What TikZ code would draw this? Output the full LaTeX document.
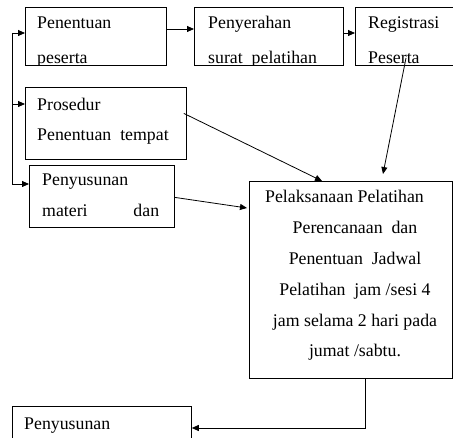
\documentclass[tikz,border=0pt]{standalone}
\usepackage{fontspec}
\setmainfont{Liberation Serif}
\usetikzlibrary{arrows.meta,positioning,calc}

\begin{document}
\begin{tikzpicture}[
    x=1pt, y=-1pt,
    box/.style={draw, line width=0.8pt, anchor=north west, inner sep=0pt},
    txt/.style={anchor=base west, inner sep=0pt, font=\fontsize{17.8}{30.8}\selectfont},
    arr/.style={line width=0.8pt, -{Triangle[length=7pt,width=6pt]}},
]
\useasboundingbox (0,0) rectangle (453,438);

\node[box, minimum width=141pt, minimum height=58pt] (peserta) at (25,7) {};
\node[box, minimum width=149pt, minimum height=58pt] (surat) at (194,7) {};
\node[box, minimum width=105pt, minimum height=58pt] (registrasi) at (355,7) {};
\node[box, minimum width=161pt, minimum height=72pt] (tempat) at (25,87) {};
\node[box, minimum width=145pt, minimum height=62pt] (materi) at (29,165) {};
\node[box, minimum width=203pt, minimum height=197pt] (pelaksanaan) at (249,181) {};
\node[box, minimum width=179pt, minimum height=50pt] (penyusunan) at (12,406) {};

\begin{scope}
\clip (peserta.south west) rectangle (registrasi.north east);
\node[txt] (t-peserta1) at (37,29) {Penentuan};
\node[txt] (t-peserta2) at (37,64) {peserta};
\node[txt] (t-surat1) at (208,29) {Penyerahan};
\node[txt] (t-surat2) at (208,64) {surat\ \ pelatihan};
\node[txt] (t-reg1) at (368,29) {Registrasi};
\node[txt] (t-reg2) at (368,64) {Peserta};
\end{scope}

\node[txt] (t-tempat1) at (37,111) {Prosedur};
\node[txt] (t-tempat2) at (37,141) {Penentuan\ \ tempat};
\node[txt] (t-materi1) at (42,186) {Penyusunan};
\node[txt] (t-materi2) at (42,217) {\makebox[117pt][l]{materi\hfill dan}};
\node[txt, anchor=base, align=center] (t-jadwal) at (355,357)
    {Pelaksanaan Pelatihan\hspace*{21pt}\\ Perencanaan\ \ dan\\ Penentuan\ \ Jadwal\\
     Pelatihan\ \ jam /sesi 4\\ jam selama 2 hari pada\\ jumat /sabtu.};
\node[txt] (t-penyusunan) at (24,430) {Penyusunan};

\coordinate (spine) at (12,33);
\coordinate (spine-end) at (12,184);
\coordinate (reg-start) at (406,58);
\coordinate (reg-end) at (383,174);
\coordinate (elbow) at (365,428);

\draw[arr] (peserta.east |- 0,29) -- (surat.west |- 0,29);
\draw[arr] (surat.east |- 0,33) -- (registrasi.west |- 0,33);
\draw[line width=0.8pt] (spine) -- (spine-end);
\draw[arr] (spine) -- (peserta.west |- spine);
\draw[arr] (12,104) -- (tempat.west |- 0,104);
\draw[arr] (spine-end) -- (materi.west |- spine-end);
\draw[arr] ([xshift=-3pt,yshift=10pt]tempat.east) -- ([xshift=73pt]pelaksanaan.north west);
\draw[arr] (reg-start) -- (reg-end);
\draw[arr] ([yshift=-1pt]materi.east) -- ([xshift=-2pt,yshift=-27pt]pelaksanaan.north west);
\draw[arr] (pelaksanaan.south -| elbow) -- (elbow) -- (penyusunan.east |- elbow);

\end{tikzpicture}
\end{document}
